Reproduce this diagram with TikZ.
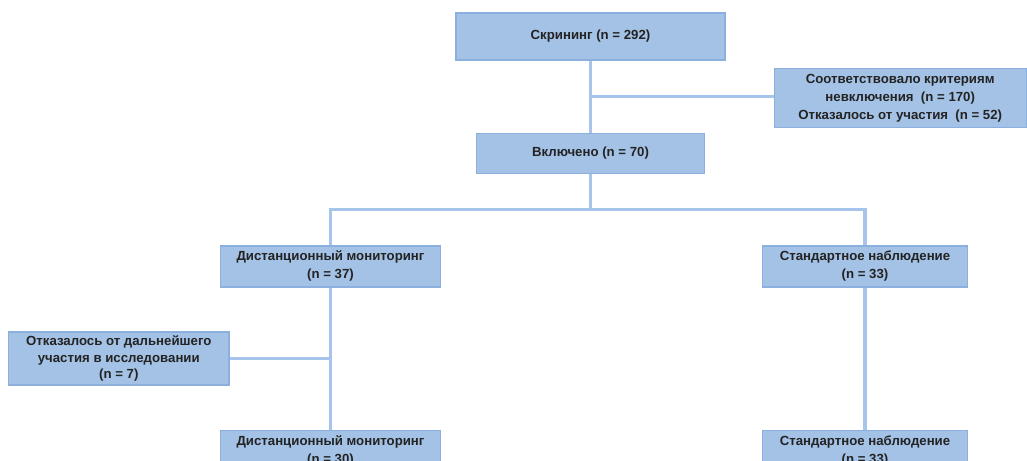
\documentclass[tikz,border=0pt]{standalone}
\usepackage{fontspec}
\setmainfont{Liberation Sans}
\usepackage{xcolor}
\definecolor{boxfill}{RGB}{164, 194, 230}
\definecolor{boxline}{RGB}{140, 176, 222}
\definecolor{linkblue}{RGB}{166, 196, 236}
\definecolor{textgray}{RGB}{35, 35, 35}
\usepackage{tikz}
\usetikzlibrary{positioning, calc}

\begin{document}
\begin{tikzpicture}[node distance=2cm]

        % Estilos dos blocos e das ligações
        \tikzstyle{stage} = [rectangle, draw=boxline, fill=boxfill, line width=1pt, align=center, inner sep=2pt, text=textgray, font=\fontsize{9.4}{13}\selectfont\bfseries]
        \tikzstyle{link} = [draw=linkblue, line width=2.2pt]

        \useasboundingbox (0,0) rectangle (25.675,-11.525);

        % Blocos principais
        \node [stage, minimum width=6.725cm, minimum height=1.175cm] (screening) at (14.7625,-0.9125) {Скрининг (n = 292)};
        \node [stage, minimum width=5.7cm, minimum height=1cm, below=1.8cm of screening] (included) {Включено (n = 70)};
        \coordinate (split1) at ($(screening.south)!0.5!(included.north)$);
        \node [stage, minimum width=6.3cm, minimum height=1.475cm, right=4.575cm of split1, yshift=-1pt] (excluded) {Соответствовало критериям\\невключения\ \ (n = 170)\\Отказалось от участия\ \ (n = 52)};

        % Grupos
        \node [stage, minimum width=5.5cm, minimum height=1.025cm, below=1.775cm of included, xshift=-6.5cm] (remote1) {Дистанционный мониторинг\\(n = 37)};
        \node [stage, minimum width=5.125cm, minimum height=1.025cm, below=1.775cm of included, xshift=6.8625cm] (standard1) {Стандартное наблюдение\\(n = 33)};
        \node [stage, minimum width=5.5cm, minimum height=1.025cm, below=3.55cm of remote1] (remote2) {Дистанционный мониторинг\\(n = 30)};
        \node [stage, minimum width=5.125cm, minimum height=1.025cm, below=3.55cm of standard1] (standard2) {Стандартное наблюдение\\(n = 33)};
        \coordinate (split3) at ($(remote1.south)!0.5!(remote2.north)$);
        \node [stage, font=\fontsize{9.4}{12}\selectfont\bfseries, minimum width=5.5cm, minimum height=1.325cm, left=2.525cm of split3] (withdrew) {Отказалось от дальнейшего\\участия в исследовании\\(n = 7)};

        % Ligações
        \coordinate (split2) at ($(included.south)!0.5!(remote1.north -| included.south)$);
        \draw [link] (screening.south) -- (included.north);
        \draw [link] (split1) -- (excluded.west |- split1);
        \draw [link] (included.south) -- (split2);
        \draw [link] (remote1.north) |- (split2) -| (standard1.north);
        \draw [link] (remote1.south) -- (remote2.north);
        \draw [link] (split3) -- (withdrew.east);
        \draw [link] (standard1.south) -- (standard2.north);
\end{tikzpicture}
\end{document}
